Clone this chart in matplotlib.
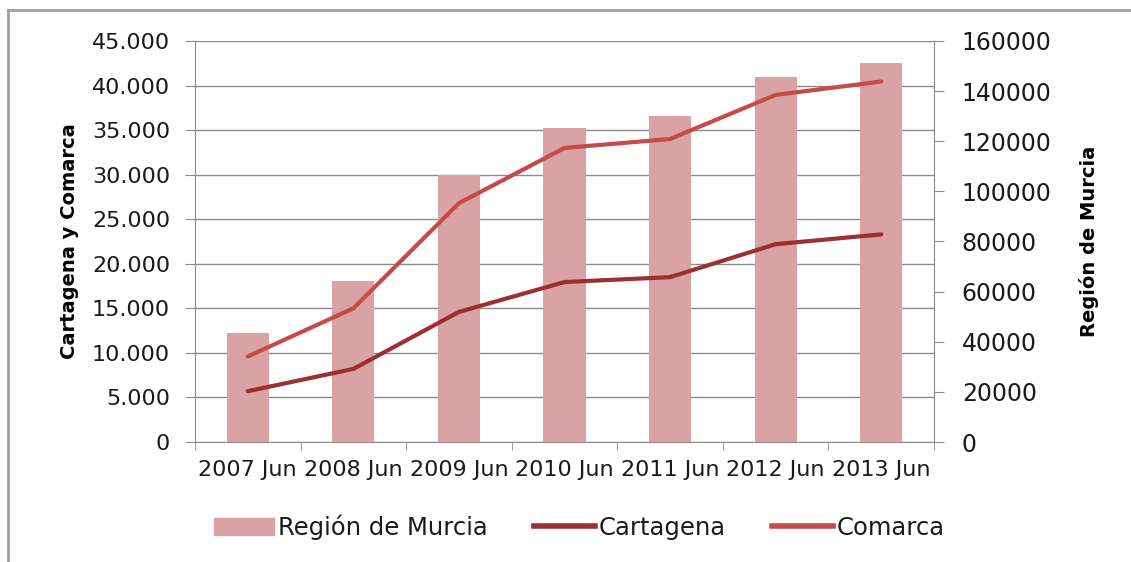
import matplotlib
matplotlib.use("Agg")
import matplotlib.pyplot as plt
from matplotlib.ticker import FuncFormatter, FixedLocator
from matplotlib.patches import Patch
from matplotlib.lines import Line2D

categories = ["2007 Jun", "2008 Jun", "2009 Jun", "2010 Jun", "2011 Jun", "2012 Jun", "2013 Jun"]
region_murcia = [43500, 64200, 106500, 125300, 130000, 145600, 151200]
cartagena = [5700, 8200, 14600, 17950, 18500, 22200, 23300]
comarca = [9600, 15000, 26800, 33000, 34000, 38950, 40450]

bar_color = "#D9A3A5"
cart_color = "#9B3033"
com_color = "#C44B4A"
grid_color = "#8C8C8C"
text_color = "#1A1A1A"
font = ["DejaVu Sans"]
plt.rcParams["font.family"] = font
plt.rcParams["text.color"] = text_color
plt.rcParams["xtick.color"] = text_color
plt.rcParams["ytick.color"] = text_color

W, H = 1131, 562
fig = plt.figure(figsize=(W / 100, H / 100), dpi=100)
fig.patch.set_facecolor("white")

# outer frame (left and top edges visible)
fig.add_artist(Line2D([8 / W, 8 / W], [0, 1 - 10 / H], transform=fig.transFigure, color="#A0A0A0", lw=2))
fig.add_artist(Line2D([8 / W, 1], [1 - 10 / H, 1 - 10 / H], transform=fig.transFigure, color="#A0A0A0", lw=2))

rect = [195 / W, (H - 442) / H, (934 - 195) / W, (442 - 41) / H]
ax = fig.add_axes(rect)
x = list(range(len(categories)))

# left axis: grid and scale for lines
ax.set_ylim(0, 45000)
ax.set_xlim(-0.5, len(categories) - 0.5)
ax.yaxis.set_major_locator(FixedLocator(list(range(0, 45001, 5000))))
ax.yaxis.set_major_formatter(FuncFormatter(lambda v, p: f"{int(v):,}".replace(",", ".")))
ax.grid(axis="y", color=grid_color, lw=1)
ax.set_axisbelow(True)
ax.set_xticks(x)
ax.set_xticklabels(categories)
ax.set_xticks([i - 0.5 for i in range(len(categories) + 1)], minor=True)
ax.tick_params(axis="x", which="major", length=0, pad=13, labelsize=16)
ax.tick_params(axis="x", which="minor", length=6, color=grid_color)
ax.tick_params(axis="y", length=7, color=grid_color, labelsize=16, pad=11)
for s in ["top", "right"]:
    ax.spines[s].set_visible(False)
for s in ["left", "bottom"]:
    ax.spines[s].set_color(grid_color)
ax.set_ylabel("Cartagena y Comarca", fontsize=14, fontweight="bold", labelpad=9)

# right axis: bars
ax2 = ax.twinx()
ax2.bar(x, region_murcia, width=0.4, color=bar_color, zorder=2)
ax2.set_ylim(0, 160000)
ax2.yaxis.set_major_locator(FixedLocator(list(range(0, 160001, 20000))))
ax2.tick_params(axis="y", length=7, color=grid_color, labelsize=17, pad=13)
for s in ["top", "left", "bottom"]:
    ax2.spines[s].set_visible(False)
ax2.spines["right"].set_color(grid_color)
ax2.set_ylabel("Región de Murcia", fontsize=14, fontweight="bold", labelpad=20)

# lines on top, sharing left scale
ax3 = ax.twinx()
ax3.set_ylim(0, 45000)
ax3.axis("off")
ax3.plot(x, cartagena, color=cart_color, lw=3, solid_capstyle="round")
ax3.plot(x, comarca, color=com_color, lw=3, solid_capstyle="round")

handles = [Patch(color=bar_color), Line2D([], [], color=cart_color, lw=4), Line2D([], [], color=com_color, lw=4)]
labels = ["Región de Murcia", "Cartagena", "Comarca"]
fig.legend(handles, labels, loc="center", bbox_to_anchor=(579 / W, 35 / H), ncol=3, frameon=False,
           fontsize=17.5, handlelength=2.5, handletextpad=0.15, columnspacing=1.9)

fig.savefig("out.png", dpi=100, facecolor="white")
